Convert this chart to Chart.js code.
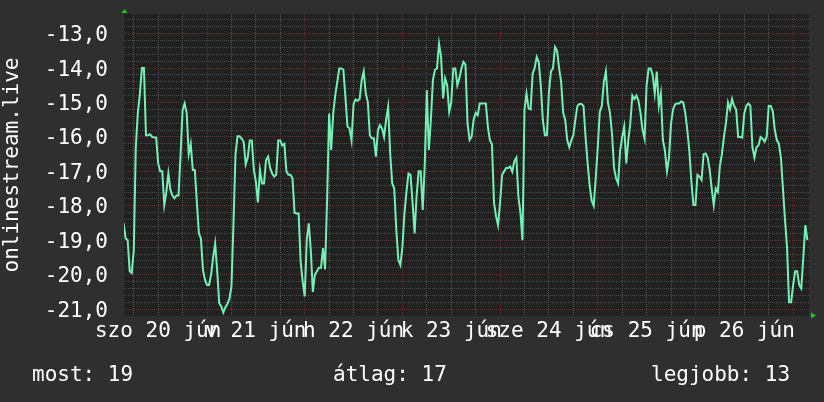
<!DOCTYPE html>
<html>
<head>
<meta charset="utf-8">
<script src="https://cdn.jsdelivr.net/npm/chart.js@4.4.0/dist/chart.umd.min.js"></script>
<style>
  html, body { margin: 0; padding: 0; background: #2f2f2f; }
  #wrap { position: relative; width: 824px; height: 402px; }
  canvas { display: block; }
  .stat { position: absolute; top: 362px; font: 21px 'DejaVu Sans Mono', monospace; color: #fff; line-height: 24px; white-space: pre; }
</style>
</head>
<body>
<div id="wrap">
  <canvas id="chart" width="824" height="402"></canvas>
  <div class="stat" id="stat-0" style="left: 32px;"></div>
  <div class="stat" id="stat-1" style="left: 333px;"></div>
  <div class="stat" id="stat-2" style="left: 651px;"></div>
</div>
<script>
// time axis in hours from midnight, Jun 20
const X_MIN = 3.6;
const X_MAX = 171.9;
const Y_MIN = -21.2;
const Y_MAX = -12.43;

const dayLabels = ['szo 20 jún', 'v 21 jún', 'h 22 jún', 'k 23 jún', 'sze 24 jún', 'cs 25 jún', 'p 26 jún'];
const yLabels = [-21, -20, -19, -18, -17, -16, -15, -14, -13];
const yTitle = 'onlinestream.live';

const statLabels = ['most', 'átlag', 'legjobb'];
const statValues = [19, 17, 13];

// one reading every half hour, starting at 03:30 on Jun 20
const START_H = 3.5;
const STEP_H = 0.5;
const values = [
  -18.5, -18.95, -19.0, -19.9, -19.95, -19.3, -16.3, -15.3, -14.75, -14.0,
  -14.0, -15.95, -15.95, -15.92, -16.0, -16.02, -16.02, -16.77, -17.0, -17.0,
  -17.98, -17.6, -17.06, -17.54, -17.7, -17.78, -17.7, -17.7, -16.5, -15.22,
  -15.03, -15.3, -16.5, -16.2, -16.96, -16.96, -17.9, -18.8, -18.95, -19.86,
  -20.15, -20.3, -20.3, -20.0, -19.5, -19.1, -19.9, -20.83, -20.92, -21.1,
  -20.95, -20.85, -20.7, -20.34, -18.5, -16.5, -15.98, -15.98, -16.05, -16.14,
  -16.8, -16.6, -16.1, -16.1, -16.96, -17.3, -17.9, -16.96, -17.35, -17.35,
  -16.67, -16.57, -16.9, -17.06, -17.15, -17.1, -16.1, -16.1, -16.25, -16.2,
  -17.0, -17.1, -17.1, -17.2, -18.2, -18.22,
  // Jun 21 22:30 ..
  -18.22, -19.62, -20.2, -20.63, -18.99, -18.51, -19.3, -20.5, -20.0, -19.9,
  -19.8, -19.8, -19.23, -19.85, -17.83, -15.32, -16.38, -15.32, -14.79, -14.4,
  -14.01, -14.01, -14.05, -14.84, -15.7, -15.75, -16.1, -15.05, -14.91, -14.95,
  -14.9, -14.35, -14.1, -14.74, -14.98, -15.95, -16.04, -16.04, -16.57, -15.8,
  -15.66, -15.75, -16.0, -15.5, -15.13, -16.48, -17.35, -17.5, -18.7, -19.57,
  -19.72, -19.2, -18.22, -17.59, -17.06, -17.1, -17.9, -18.8, -17.69, -17.0,
  -17.0, -18.12, -16.77, -14.64, -16.38, -15.5, -14.35, -14.05, -14.01, -13.29,
  -13.68, -14.88, -14.3, -14.5, -15.27, -15.0, -14.01, -14.01, -14.5, -14.3,
  -14.01, -13.82, -13.9, -15.6, -16.09,
  // Jun 23 17:00 ..
  -16.0, -15.5, -15.3, -15.37, -15.03, -15.03, -15.03, -15.03, -15.7, -16.1,
  -16.2, -17.9, -18.3, -18.56, -17.9, -17.1, -17.0, -16.9, -16.9, -16.86,
  -17.01, -16.7, -16.6, -17.73, -18.2, -19.0, -15.2, -14.74, -15.17, -15.2,
  -14.16, -14.0, -13.68, -13.82, -14.5, -15.5, -15.95, -15.95, -14.7, -14.1,
  -14.0, -13.39, -13.5, -14.0, -14.4, -15.3, -15.5, -16.09, -16.3, -16.1,
  -15.95, -15.5, -15.1, -15.04, -15.04, -15.1, -16.0, -16.75, -17.4, -17.85,
  -18.0, -17.2, -16.3, -15.27, -15.1, -14.4, -14.1, -15.0, -15.3, -15.9,
  -16.9, -17.2, -17.35, -16.4, -16.0, -15.7, -16.77, -16.1, -15.6, -14.8,
  -14.9, -14.8, -14.95, -15.3, -15.8,
  // Jun 25 11:30 ..
  -16.05, -14.5, -14.01, -14.01, -14.2, -14.74, -14.1, -15.1, -14.74, -16.09,
  -16.4, -17.0, -16.6, -15.61, -15.2, -15.05, -15.03, -15.03, -14.97, -15.0,
  -15.3, -15.8, -16.4, -17.3, -17.98, -17.98, -17.1, -17.15, -17.25, -16.5,
  -16.48, -16.6, -16.96, -17.5, -17.98, -17.5, -17.6, -16.85, -16.5, -16.0,
  -15.6, -15.0, -15.2, -14.9, -15.1, -15.2, -16.0, -16.0, -16.02, -15.32,
  -15.1, -15.03, -15.1, -16.3, -16.6, -16.3, -16.24, -16.0, -16.05, -16.14,
  -16.0, -15.1, -15.1, -15.25, -15.8, -16.09, -16.2, -16.6, -17.5, -18.4,
  -19.2, -20.8, -20.8, -20.3, -19.9, -19.9, -20.3, -20.4, -19.5, -18.56,
  -19.0
];

const points = values.map((v, i) => ({ x: START_H + i * STEP_H, y: v }));

const isWhole = v => Math.abs(v - Math.round(v)) < 1e-6;

// plot background, axis arrows
const framePlugin = {
  id: 'frame',
  beforeDraw(chart) {
    const { ctx, chartArea: a } = chart;
    ctx.save();
    ctx.fillStyle = '#212121';
    ctx.fillRect(a.left, a.top, a.right - a.left, a.bottom - a.top);
    ctx.restore();
  },
  afterDraw(chart) {
    const { ctx, chartArea: a } = chart;
    ctx.save();
    ctx.fillStyle = '#14d014';
    ctx.beginPath();
    ctx.moveTo(a.left + 0.5, a.top - 5);
    ctx.lineTo(a.left - 2.5, a.top - 1);
    ctx.lineTo(a.left + 3.5, a.top - 1);
    ctx.closePath();
    ctx.fill();
    ctx.beginPath();
    ctx.moveTo(a.right + 7, a.bottom - 0.5);
    ctx.lineTo(a.right + 2, a.bottom - 3.5);
    ctx.lineTo(a.right + 2, a.bottom + 2.5);
    ctx.closePath();
    ctx.fill();
    ctx.restore();
  }
};

Chart.defaults.font.family = "'DejaVu Sans Mono', monospace";
Chart.defaults.font.size = 21;
Chart.defaults.color = '#ffffff';

new Chart(document.getElementById('chart'), {
  type: 'line',
  data: {
    datasets: [{
      data: points,
      borderColor: '#74f0b4',
      borderWidth: 2,
      pointRadius: 0,
      tension: 0,
      fill: false
    }]
  },
  options: {
    responsive: false,
    animation: false,
    devicePixelRatio: 1,
    layout: { padding: { top: 14, right: 15, bottom: 0, left: 0 } },
    plugins: { legend: { display: false }, tooltip: { enabled: false } },
    scales: {
      x: {
        type: 'linear',
        min: X_MIN,
        max: X_MAX,
        afterBuildTicks(axis) {
          const t = [];
          for (let h = 6; h <= 168; h += 6) t.push({ value: h });
          axis.ticks = t;
        },
        afterFit(s) { s.height = 86; },
        ticks: {
          autoSkip: false,
          maxRotation: 0,
          minRotation: 0,
          padding: 3,
          color: '#ffffff',
          callback(v) {
            return v % 24 === 12 ? dayLabels[(v - 12) / 24] : '';
          }
        },
        grid: {
          drawTicks: false,
          lineWidth: 1,
          color: c => (c.tick && c.tick.value % 24 === 0) ? '#6a2c2c' : '#555555'
        },
        border: { display: false, dash: [1, 1] }
      },
      y: {
        type: 'linear',
        min: Y_MIN,
        max: Y_MAX,
        afterBuildTicks(axis) {
          const t = [];
          for (let k = -105; k <= -63; k++) t.push({ value: k / 5 });
          axis.ticks = t;
        },
        afterFit(s) { s.width = 124; },
        ticks: {
          autoSkip: false,
          padding: 0,
          labelOffset: 2,
          color: '#ffffff',
          callback(v) {
            return (isWhole(v) && yLabels.includes(Math.round(v))) ? v.toFixed(1).replace('.', ',') : '';
          }
        },
        grid: {
          drawTicks: true,
          tickLength: 16,
          tickColor: 'transparent',
          lineWidth: 1,
          color: c => (c.tick && isWhole(c.tick.value)) ? '#6a2c2c' : '#4a4a4a'
        },
        border: { display: false, dash: [1, 1] },
        title: {
          display: true,
          text: yTitle,
          color: '#ffffff',
          padding: 0
        }
      }
    }
  },
  plugins: [framePlugin]
});

statLabels.forEach((label, i) => {
  document.getElementById('stat-' + i).textContent = label + ': ' + statValues[i];
});
</script>
</body>
</html>
